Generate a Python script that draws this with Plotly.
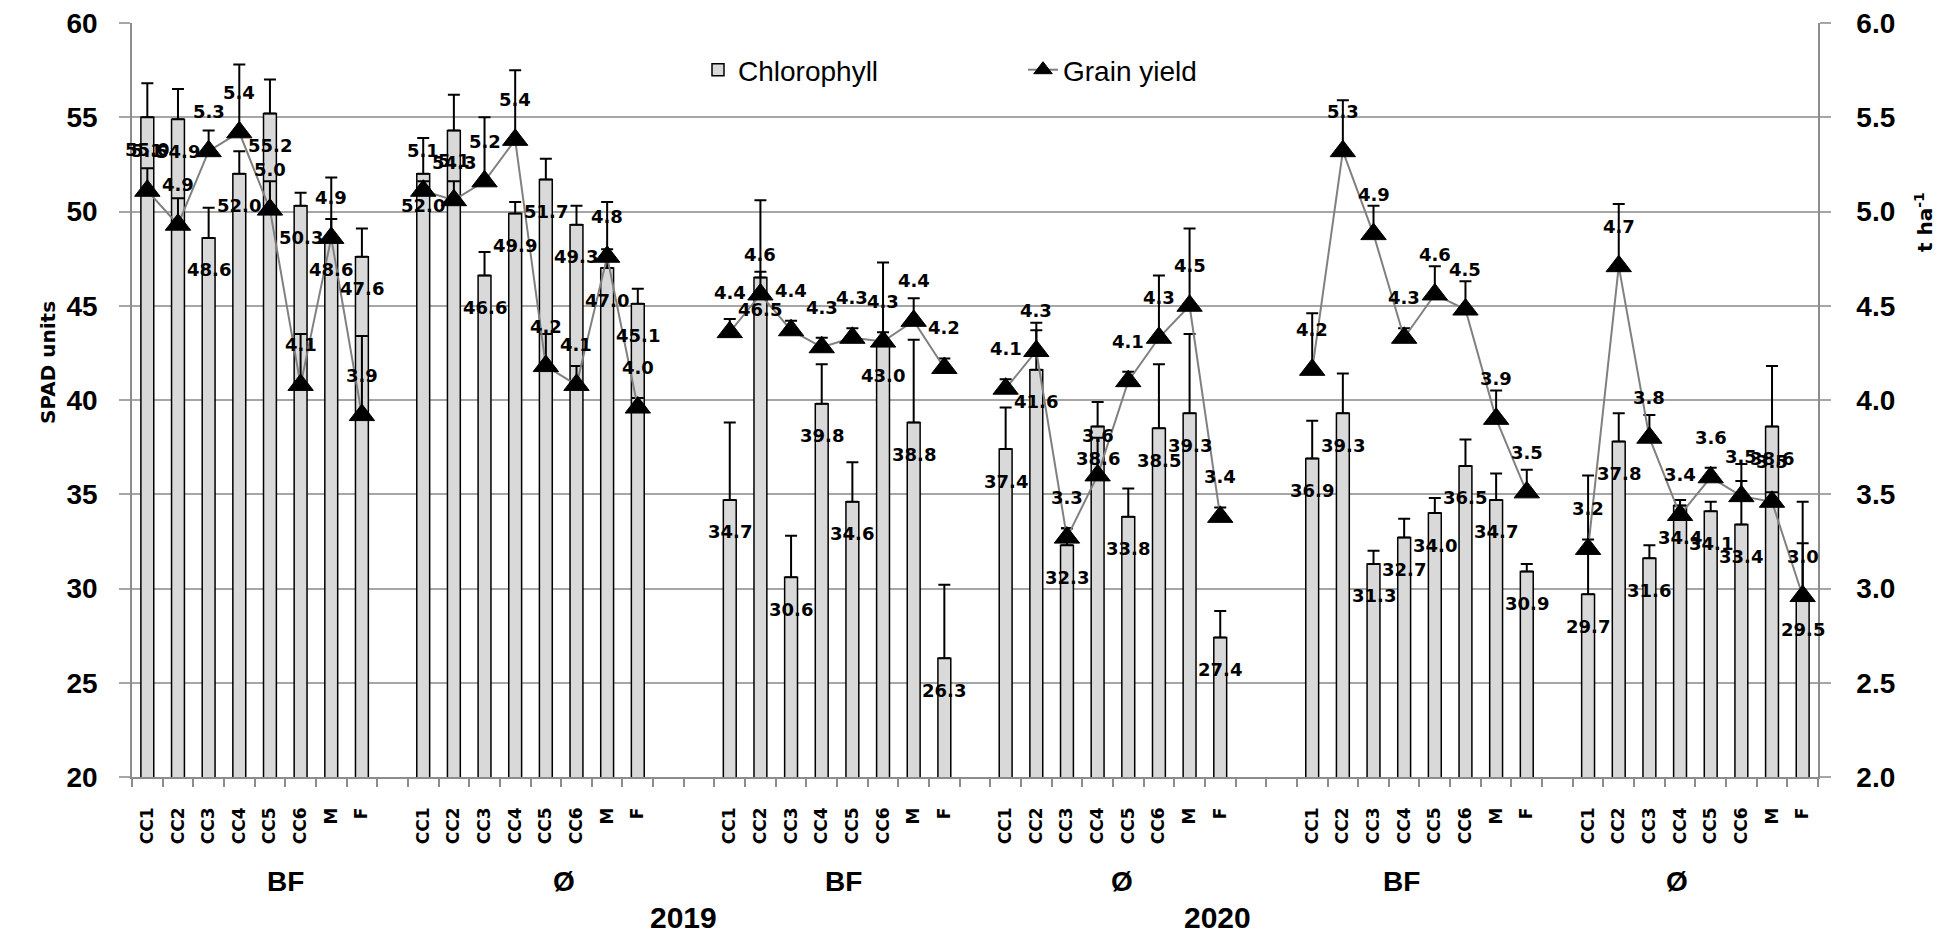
import plotly.graph_objects as go

# ---------------- data ----------------
treatments = ["CC1", "CC2", "CC3", "CC4", "CC5", "CC6", "M", "F"]
group_labels = ["BF", "Ø", "BF", "Ø", "BF", "Ø"]
year_labels = ["2019", "2020"]
spad_ticks = [20, 25, 30, 35, 40, 45, 50, 55, 60]
yield_ticks = [2.0, 2.5, 3.0, 3.5, 4.0, 4.5, 5.0, 5.5, 6.0]

# Chlorophyll (SPAD units), one list per group
chl_g1 = [55.0, 54.9, 48.6, 52.0, 55.2, 50.3, 48.6, 47.6]
chl_g2 = [52.0, 54.3, 46.6, 49.9, 51.7, 49.3, 47.0, 45.1]
chl_g3 = [34.7, 46.5, 30.6, 39.8, 34.6, 43.0, 38.8, 26.3]
chl_g4 = [37.4, 41.6, 32.3, 38.6, 33.8, 38.5, 39.3, 27.4]
chl_g5 = [36.9, 39.3, 31.3, 32.7, 34.0, 36.5, 34.7, 30.9]
chl_g6 = [29.7, 37.8, 31.6, 34.4, 34.1, 33.4, 38.6, 29.5]

chl_err_g1 = [1.8, 1.6, 1.6, 1.2, 1.8, 0.7, 3.2, 1.5]
chl_err_g2 = [1.9, 1.9, 1.25, 0.6, 1.1, 1.0, 1.0, 0.8]
chl_err_g3 = [4.1, 0.3, 2.2, 2.1, 2.1, 4.3, 4.4, 3.9]
chl_err_g4 = [2.2, 2.1, 0.9, 1.3, 1.5, 3.4, 4.2, 1.4]
chl_err_g5 = [2.0, 2.1, 0.7, 1.0, 0.8, 1.4, 1.4, 0.4]
chl_err_g6 = [6.3, 1.5, 0.7, 0.3, 0.5, 2.3, 3.2, 2.9]

# Grain yield (t ha-1)
yld_g1 = [5.11, 4.93, 5.32, 5.42, 5.01, 4.08, 4.86, 3.92]
yld_g2 = [5.11, 5.06, 5.16, 5.38, 4.18, 4.08, 4.76, 3.96]
yld_g3 = [4.36, 4.56, 4.37, 4.28, 4.33, 4.31, 4.42, 4.17]
yld_g4 = [4.06, 4.26, 3.27, 3.60, 4.10, 4.33, 4.50, 3.38]
yld_g5 = [4.16, 5.32, 4.88, 4.33, 4.56, 4.48, 3.90, 3.51]
yld_g6 = [3.21, 4.71, 3.80, 3.39, 3.59, 3.49, 3.46, 2.96]

yld_err_g1 = [0.12, 0.14, 0.11, 0.36, 0.15, 0.27, 0.10, 0.42]
yld_err_g2 = [0.05, 0.10, 0.34, 0.37, 0.17, 0.10, 0.29, 0.05]
yld_err_g3 = [0.07, 0.50, 0.05, 0.05, 0.05, 0.05, 0.12, 0.05]
yld_err_g4 = [0.05, 0.15, 0.05, 0.20, 0.05, 0.33, 0.41, 0.05]
yld_err_g5 = [0.30, 0.27, 0.15, 0.05, 0.15, 0.15, 0.15, 0.12]
yld_err_g6 = [0.05, 0.33, 0.12, 0.08, 0.05, 0.17, 0.05, 0.50]

chl_groups = [chl_g1, chl_g2, chl_g3, chl_g4, chl_g5, chl_g6]
chl_err_groups = [chl_err_g1, chl_err_g2, chl_err_g3, chl_err_g4, chl_err_g5, chl_err_g6]
yld_groups = [yld_g1, yld_g2, yld_g3, yld_g4, yld_g5, yld_g6]
yld_err_groups = [yld_err_g1, yld_err_g2, yld_err_g3, yld_err_g4, yld_err_g5, yld_err_g6]

# ---------------- layout constants ----------------
W, H = 1949, 933
L, R, T, B = 124, 139, 15, 164
group_start = [0, 9, 19, 28, 38, 47]   # slot index where each group starts
n_slots = 55
group_label_x = [4.5, 13.6, 22.7, 31.8, 40.9, 49.9]
year_label_x = [17.5, 34.9]

# ---------------- build series ----------------
bar_x, bar_y, bar_e = [], [], []
line_x, line_y, line_e = [], [], []
for gi, gs in enumerate(group_start):
    for i in range(len(treatments)):
        bar_x.append(gs + i)
        bar_y.append(chl_groups[gi][i])
        bar_e.append(chl_err_groups[gi][i])
        line_x.append(gs + i)
        line_y.append(yld_groups[gi][i])
        line_e.append(yld_err_groups[gi][i])
    if gi < len(group_start) - 1:
        line_x.append(gs + len(treatments))
        line_y.append(None)
        line_e.append(0)

fig = go.Figure()

fig.add_trace(go.Bar(
    x=bar_x, y=bar_y, name="Chlorophyll", width=0.42,
    marker=dict(color="#d9d9d9", line=dict(color="black", width=1.5)),
    error_y=dict(type="data", symmetric=False, array=bar_e,
                 arrayminus=[0] * len(bar_e), color="black", thickness=2, width=6),
))

fig.add_trace(go.Scatter(
    x=line_x, y=line_y, name="Grain yield", yaxis="y2", mode="lines+markers",
    connectgaps=False,
    line=dict(color="#808080", width=2),
    marker=dict(symbol="triangle-up", size=22, color="black",
                line=dict(color="black", width=1)),
    error_y=dict(type="data", symmetric=False, array=line_e,
                 arrayminus=[0] * len(line_e), color="black", thickness=2, width=6),
))

annotations = []
label_font = dict(family="DejaVu Sans", size=18, color="black", weight="bold")
for xv, v in zip(bar_x, bar_y):
    annotations.append(dict(x=xv, y=v, xref="x", yref="y", text=f"{v:.1f}",
                            showarrow=False, yshift=-32, font=label_font))
for xv, v in zip(line_x, line_y):
    if v is None:
        continue
    annotations.append(dict(x=xv, y=v, xref="x", yref="y2", text=f"{v:.1f}",
                            showarrow=False, yshift=40, font=label_font))

plot_h = H - T - B
plot_w = W - L - R


def py_to_paper(py):
    return (H - B - py) / plot_h


def px_to_paper(px):
    return (px - L) / plot_w


big_font = dict(family="Liberation Sans", size=28, color="black", weight="bold")
for gx, g in zip(group_label_x, group_labels):
    annotations.append(dict(x=gx, y=py_to_paper(873), xref="x", yref="paper",
                            text=g, showarrow=False, yanchor="middle", font=big_font))
for yx, yr in zip(year_label_x, year_labels):
    annotations.append(dict(x=yx, y=py_to_paper(910), xref="x", yref="paper",
                            text=yr, showarrow=False, yanchor="middle",
                            font=dict(family="Liberation Sans", size=30, color="black", weight="bold")))

title_font = dict(family="DejaVu Sans", size=20, color="black", weight="bold")
annotations.append(dict(x=px_to_paper(40), y=py_to_paper(355), xref="paper", yref="paper",
                        text="SPAD units", textangle=-90, showarrow=False,
                        xanchor="center", yanchor="middle", font=title_font))
annotations.append(dict(x=px_to_paper(1916), y=py_to_paper(214), xref="paper", yref="paper",
                        text="t ha<sup>-1</sup>", textangle=-90, showarrow=False,
                        xanchor="center", yanchor="middle", font=title_font))

axis_gray = "#8c8c8c"
tick_font = dict(family="Liberation Sans", size=28, color="black", weight="bold")

fig.update_layout(
    width=W, height=H,
    margin=dict(l=L, r=R, t=T, b=B, pad=0, autoexpand=False),
    paper_bgcolor="white", plot_bgcolor="white",
    showlegend=True,
    legend=dict(orientation="h", x=px_to_paper(690), y=py_to_paper(62),
                xanchor="left", yanchor="middle", bgcolor="rgba(0,0,0,0)",
                font=dict(family="Liberation Sans", size=28, color="black"),
                entrywidth=280, entrywidthmode="pixels", traceorder="normal"),
    bargap=0.58,
    xaxis=dict(
        range=[-0.5, n_slots - 0.5], tickmode="array", automargin=False,
        tickvals=bar_x, ticktext=treatments * len(group_start),
        tickangle=-90, ticks="", ticklabelstandoff=22,
        tickfont=dict(family="DejaVu Sans", size=17, color="black", weight="bold"),
        showline=True, linecolor=axis_gray, linewidth=1.5, showgrid=False,
        zeroline=False,
        minor=dict(tickmode="array",
                   tickvals=[s - 0.5 for s in range(n_slots + 1)],
                   ticks="outside", ticklen=8, tickcolor=axis_gray, tickwidth=1.5,
                   showgrid=False),
    ),
    yaxis=dict(
        range=[20, 60], tickmode="array", tickvals=spad_ticks, automargin=False,
        ticktext=[str(t) for t in spad_ticks], ticklabeloverflow="allow",
        showgrid=True, gridcolor="#a6a6a6",
        gridwidth=1.5, showline=True, linecolor=axis_gray, linewidth=1.5,
        ticks="outside", ticklen=11, tickcolor="#a6a6a6", tickwidth=1.5,
        ticklabelstandoff=16, tickfont=tick_font, zeroline=False,
    ),
    yaxis2=dict(
        range=[2, 6], tickmode="array", tickvals=yield_ticks, automargin=False,
        ticktext=[f"{t:.1f}" for t in yield_ticks], ticklabeloverflow="allow",
        overlaying="y",
        side="right", showgrid=False, showline=True, linecolor=axis_gray,
        linewidth=1.5, ticks="outside", ticklen=11, tickcolor="#a6a6a6",
        tickwidth=1.5, ticklabelstandoff=20, tickfont=tick_font, zeroline=False,
    ),
    annotations=annotations,
)

fig.write_html("out.html")
